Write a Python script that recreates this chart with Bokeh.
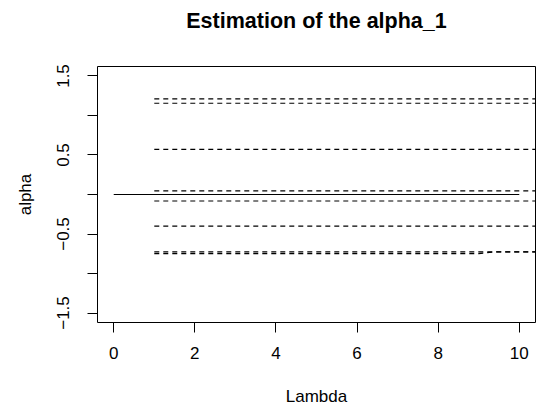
from bokeh.plotting import figure
from bokeh.models import FixedTicker, Range1d, Title
from bokeh.embed import file_html
from bokeh.resources import INLINE

# ---- data ----
x_ticks = [0, 2, 4, 6, 8, 10]
y_ticks = [-1.5, -1.0, -0.5, 0.0, 0.5, 1.0, 1.5]
y_tick_labels = ["\u22121.5", "", "\u22120.5", "", "0.5", "", "1.5"]

# estimated alpha_1 over lambda (solid)
lambda_est = [0, 1, 2, 3, 4, 5, 6, 7, 8, 9, 10]
alpha_est = [0.0, 0.0, 0.0, 0.0, 0.0, 0.0, 0.0, 0.0, 0.0, 0.0, 0.0]

# reference / other curves (dashed), starting at lambda = 1
lambda_ref = [1, 9, 9.4, 12]
ref_1 = [1.21, 1.21, 1.21, 1.21]
ref_2 = [1.155, 1.155, 1.155, 1.155]
ref_3 = [0.57, 0.57, 0.57, 0.57]
ref_4 = [0.045, 0.045, 0.045, 0.045]
ref_5 = [-0.082, -0.082, -0.082, -0.082]
ref_6 = [-0.40, -0.40, -0.40, -0.40]
ref_7 = [-0.725, -0.725, -0.725, -0.725]
ref_8 = [-0.748, -0.748, -0.725, -0.725]
ref_series = [ref_1, ref_2, ref_3, ref_4, ref_5, ref_6, ref_7, ref_8]

TITLE = "Estimation of the alpha_1"
FONT = "Liberation Sans"

p = figure(width=542, height=410, output_backend="svg", toolbar_location=None,
           x_range=Range1d(-0.4, 10.4), y_range=Range1d(-1.62, 1.62),
           min_border_left=97, min_border_right=7, min_border_top=65,
           min_border_bottom=88)
p.background_fill_color = "white"
p.border_fill_color = "white"
p.grid.visible = False
p.outline_line_color = "black"
p.outline_line_width = 1

# visible title
p.title.text = TITLE
p.title.align = "center"
p.title.vertical_align = "bottom"
p.title.text_font = FONT
p.title.text_font_size = "21.5px"
p.title.text_font_style = "bold"
p.title.text_color = "black"
p.title.standoff = 12

# invisible spacer between the title and the frame
p.add_layout(Title(text=" ", text_font_size="1px", standoff=25), "above")

for ax in (p.xaxis, p.yaxis):
    ax.axis_line_color = None
    ax.major_tick_out = 10
    ax.major_tick_in = 0
    ax.minor_tick_line_color = None
    ax.major_tick_line_color = "black"
    ax.major_label_text_font = FONT
    ax.major_label_text_font_size = "17px"
    ax.major_label_text_color = "black"
    ax.axis_label_text_font = FONT
    ax.axis_label_text_font_size = "17px"
    ax.axis_label_text_font_style = "normal"
    ax.axis_label_text_color = "black"

p.xaxis.ticker = FixedTicker(ticks=x_ticks)
p.xaxis.axis_label = "Lambda"
p.xaxis.major_label_standoff = 14
p.xaxis.axis_label_standoff = 25

p.yaxis.ticker = FixedTicker(ticks=y_ticks)
p.yaxis.major_label_overrides = {t: s for t, s in zip(y_ticks, y_tick_labels)}
p.yaxis.major_label_orientation = "vertical"
p.yaxis.axis_label = "alpha"
p.yaxis.major_label_standoff = 18
p.yaxis.axis_label_standoff = 20

p.line(lambda_est, alpha_est, line_color="black", line_width=1.2)
for ys in ref_series:
    p.line(lambda_ref, ys, line_color="black", line_width=1.2, line_dash="5 4")

open("out.html", "w").write(file_html(p, INLINE))
